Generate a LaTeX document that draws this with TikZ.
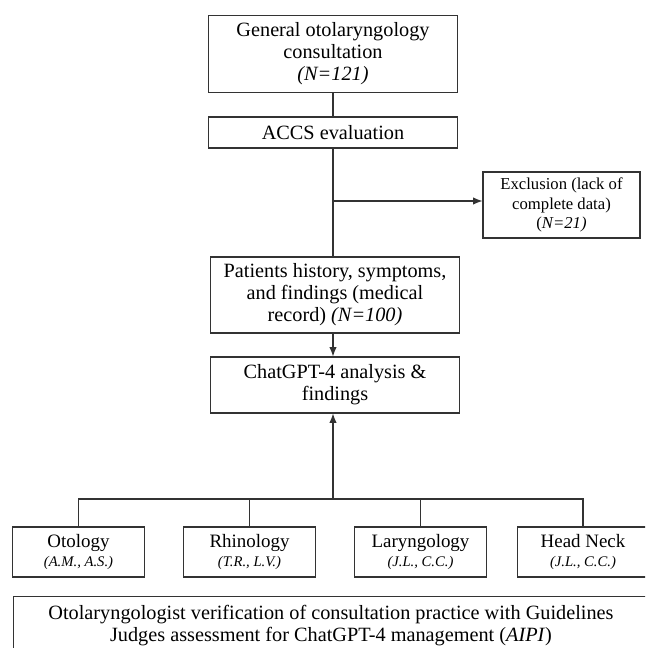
\documentclass[tikz,border=0pt]{standalone}
\usepackage{fontspec}
\setmainfont{Liberation Serif}
\usetikzlibrary{arrows.meta}
\newcommand\subtxt[1]{{\fontsize{11}{12}\selectfont\itshape #1}}
\begin{document}
\begin{tikzpicture}[x=0.75pt,y=-0.75pt,
  every node/.style={inner sep=0pt},
  box/.style={draw=black!80,line width=0.8pt,align=center,font=\fontsize{15.2}{16.5}\selectfont},
  mainbox/.style={box,minimum width=186.75pt},
  smallbox/.style={box,minimum width=98.5pt,minimum height=37.5pt,font=\fontsize{14.2}{15}\selectfont},
  conn/.style={draw=black!80,line width=0.8pt},
  arr/.style={conn,-{Latex[length=7pt,width=5.5pt]}}]
\clip (0,0) rectangle (645,648);
\useasboundingbox (0,0) rectangle (645,648);
\fill[white] (0,0) rectangle (645,648);

\node[mainbox,minimum height=57.75pt] (b1) at (333,54)
  {General otolaryngology\\consultation\\\textit{(N=121)}};
\node[mainbox,minimum height=23.25pt] (b2) at (333,132.5) {ACCS evaluation};
\node[box,minimum width=117.75pt,minimum height=49.5pt,font=\fontsize{12.5}{14.5}\selectfont] (ex) at (561.5,205)
  {Exclusion (lack of\\complete data)\\(\textit{N=21)}};
\node[mainbox,minimum height=57pt] (b3) at (335,295)
  {Patients history, symptoms,\\and findings (medical\\record) \textit{(N=100)}};
\node[mainbox,minimum height=42pt] (b4) at (335,385)
  {ChatGPT-4 analysis \&\\findings};

\node[smallbox] (o) at (78.5,552) {Otology\\[-1pt]\subtxt{(A.M., A.S.)}};
\node[smallbox] (r) at (249.5,552) {Rhinology\\[-1pt]\subtxt{(T.R., L.V.)}};
\node[smallbox] (l) at (420.5,552) {Laryngology\\[-1pt]\subtxt{(J.L., C.C.)}};
\node[smallbox] (h) at (583,552) {Head Neck\\[-1pt]\subtxt{(J.L., C.C.)}};

\node[box,minimum width=485.25pt,minimum height=55pt,anchor=north west] (v) at (13,596) {};
\node[font=\fontsize{15.2}{16.5}\selectfont,align=center] (vt) at (331,626)
  {Otolaryngologist verification of consultation practice with Guidelines\\
   Judges assessment for ChatGPT-4 management (\textit{AIPI})};

\coordinate (sp) at (333,201);
\coordinate (bus) at (333,499);
\draw[conn] (b1.south -| b2) -- (b2.north);
\draw[conn] (b2.south) -- (b2.south |- b3.north);
\draw[arr] (sp) -- (sp -| ex.west);
\draw[arr] (b2.south |- b3.south) -- (b2.south |- b4.north);
\draw[arr] (bus) -- (bus |- b4.south);
\draw[conn] (o.north) -- (o.north |- bus) -- (h.north |- bus) -- (h.north);
\draw[conn] (r.north) -- (r.north |- bus);
\draw[conn] (l.north) -- (l.north |- bus);
\end{tikzpicture}
\end{document}
